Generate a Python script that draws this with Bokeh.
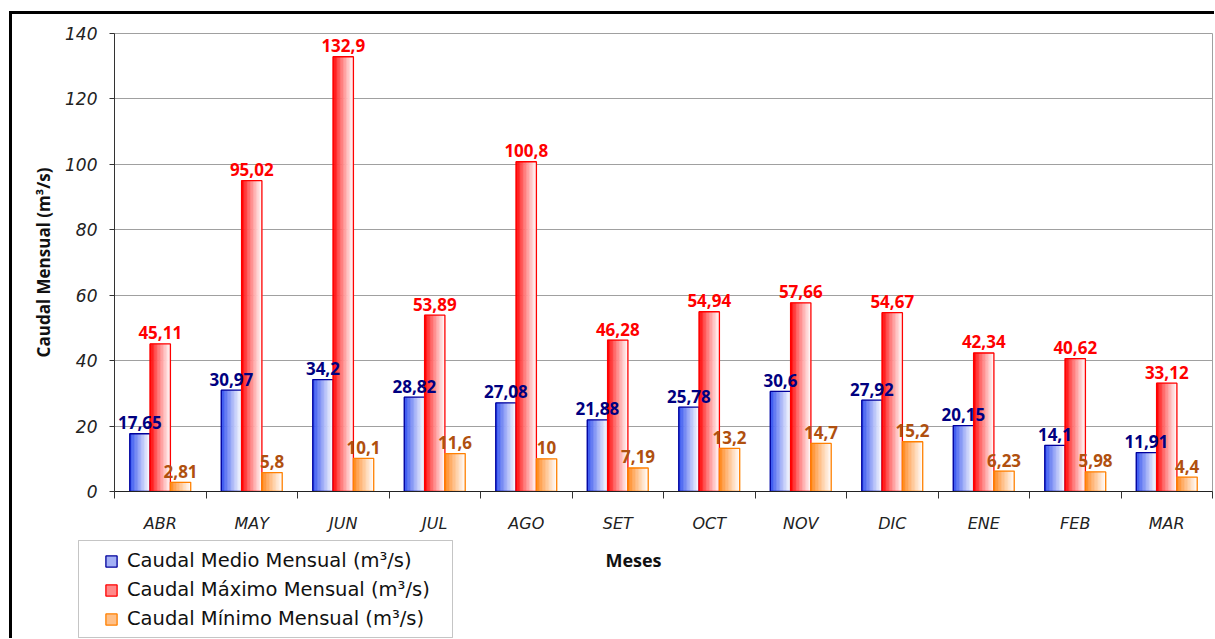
import numpy as np
from bokeh.plotting import figure
from bokeh.layouts import column, row
from bokeh.models import (ColumnDataSource, Range1d, FixedTicker, Legend, LegendItem,
                          Label, BoxAnnotation, Spacer)
from bokeh.core.properties import value
from bokeh.embed import file_html
from bokeh.resources import INLINE

# ---------------- data ----------------
months = ["ABR", "MAY", "JUN", "JUL", "AGO", "SET", "OCT", "NOV", "DIC", "ENE", "FEB", "MAR"]
caudal_medio = [17.65, 30.97, 34.2, 28.82, 27.08, 21.88, 25.78, 30.6, 27.92, 20.15, 14.1, 11.91]
caudal_maximo = [45.11, 95.02, 132.9, 53.89, 100.8, 46.28, 54.94, 57.66, 54.67, 42.34, 40.62, 33.12]
caudal_minimo = [2.81, 5.8, 10.1, 11.6, 10, 7.19, 13.2, 14.7, 15.2, 6.23, 5.98, 4.4]
series_names = ["Caudal Medio Mensual (m³/s)", "Caudal Máximo Mensual (m³/s)",
                "Caudal Mínimo Mensual (m³/s)"]
y_ticks = [0, 20, 40, 60, 80, 100, 120, 140]

# ---------------- styles ----------------
base_colors = [(40, 72, 238), (255, 0, 0), (255, 130, 20)]
line_colors = ["#00009c", "#ff0000", "#ff8000"]
label_colors = ["#000080", "#ff0000", "#b0500f"]
legend_fill = ["#a3b0f5", "#ff8a8a", "#ffc088"]
bar_w = 0.222
n_strips = 14

W = 1202
HA = 522
HB = 102
WB = W - 1

p = figure(width=W, height=HA, x_range=Range1d(0, 12), y_range=Range1d(0, 140),
           output_backend="svg", toolbar_location=None,
           min_border_left=102, min_border_right=2, min_border_top=19, min_border_bottom=45)
p.outline_line_color = "#a0a0a0"
p.background_fill_color = "white"
p.border_fill_color = "white"

idx = np.arange(len(months))
all_series = [caudal_medio, caudal_maximo, caudal_minimo]


def fmt(v):
    return f"{v:g}".replace(".", ",")


# legend / footer figure (its frame covers the whole canvas: 1 data unit = 1 px)
q = figure(width=WB, height=HB, x_range=Range1d(0, WB), y_range=Range1d(0, HB),
           output_backend="svg", toolbar_location=None, x_axis_type=None, y_axis_type=None,
           min_border_left=0, min_border_right=0, min_border_top=0, min_border_bottom=0)
q.outline_line_color = None
q.xgrid.grid_line_color = None
q.ygrid.grid_line_color = None
q.background_fill_color = "white"
q.border_fill_color = "white"

legend_items = []
for s, vals in enumerate(all_series):
    vals = np.array(vals, dtype=float)
    left0 = idx + 0.5 + (s - 1.5) * bar_w
    # gradient strips (saturated on the left, fading to white on the right)
    L, R, T, B, C = [], [], [], [], []
    for j in range(n_strips):
        t = (j / (n_strips - 1)) ** 0.85 * 0.96
        r, g, b = [int(round(c * (1 - t) + 255 * t)) for c in base_colors[s]]
        col = "#%02x%02x%02x" % (r, g, b)
        L += list(left0 + j * bar_w / n_strips)
        R += list(left0 + (j + 1) * bar_w / n_strips)
        T += list(vals)
        B += [0] * len(vals)
        C += [col] * len(vals)
    src = ColumnDataSource(dict(left=L, right=R, top=T, bottom=B, color=C))
    p.quad(left="left", right="right", top="top", bottom="bottom", source=src,
           fill_color="color", line_color="color", line_width=0.6)
    # outline
    osrc = ColumnDataSource(dict(left=left0, right=left0 + bar_w, top=vals,
                                 bottom=np.zeros_like(vals)))
    p.quad(left="left", right="right", top="top", bottom="bottom", source=osrc,
           fill_alpha=0, line_color=line_colors[s], line_width=1.3)
    # legend proxy (in footer figure, nothing visible drawn)
    dummy = q.quad(left=[np.nan], right=[np.nan], top=[np.nan], bottom=[np.nan],
                   fill_color=legend_fill[s], line_color=line_colors[s], line_width=1.3)
    legend_items.append(LegendItem(label=series_names[s], renderers=[dummy]))

for s, vals in enumerate(all_series):
    vals = np.array(vals, dtype=float)
    xc = idx + 0.5 + (s - 1) * bar_w
    lsrc = ColumnDataSource(dict(x=xc, y=vals, t=[fmt(v) for v in vals]))
    p.text(x="x", y="y", text="t", source=lsrc, text_align="center",
           text_baseline="alphabetic", y_offset=-11,
           text_font=value("Open Sans"), text_font_style="bold",
           text_font_size="17px", text_color=label_colors[s])

# ---------------- axes ----------------
p.xaxis.ticker = FixedTicker(ticks=[i + 0.5 for i in range(len(months))],
                             minor_ticks=list(range(len(months) + 1)))
p.xaxis.major_label_overrides = {i + 0.5: m for i, m in enumerate(months)}
p.xaxis.major_tick_line_color = None
p.xaxis.major_tick_out = 0
p.xaxis.major_tick_in = 0
p.xaxis.minor_tick_out = 7
p.xaxis.minor_tick_in = 0
p.xaxis.minor_tick_line_color = "#333333"
p.xaxis.axis_line_color = "#222222"
p.xaxis.major_label_standoff = 15
p.xaxis.major_label_text_font = "DejaVu Sans"
p.xaxis.major_label_text_font_style = "italic"
p.xaxis.major_label_text_font_size = "16px"
p.xaxis.major_label_text_color = "#222222"

p.yaxis.ticker = FixedTicker(ticks=y_ticks)
p.yaxis.minor_tick_line_color = None
p.yaxis.major_tick_out = 5
p.yaxis.major_tick_in = 0
p.yaxis.major_tick_line_color = "#333333"
p.yaxis.axis_line_color = "#333333"
p.yaxis.major_label_standoff = 12
p.yaxis.major_label_text_font = "DejaVu Sans"
p.yaxis.major_label_text_font_style = "italic"
p.yaxis.major_label_text_font_size = "17px"
p.yaxis.major_label_text_color = "#222222"
p.yaxis.axis_label = "Caudal Mensual (m³/s)"
p.yaxis.axis_label_text_font = "Open Sans"
p.yaxis.axis_label_text_font_style = "bold"
p.yaxis.axis_label_text_font_size = "17px"
p.yaxis.axis_label_text_color = "#111111"
p.yaxis.axis_label_standoff = 7

p.xgrid.grid_line_color = None
p.ygrid.grid_line_color = "#a0a0a0"
p.ygrid.grid_line_width = 1

# ---------------- footer: x title + legend ----------------
q.add_layout(Label(x=620, y=79, text="Meses", text_align="center", text_baseline="middle",
                   text_font="Open Sans", text_font_style="bold", text_font_size="18px",
                   text_color="#111111"))

legend = Legend(items=legend_items, location=(83, 0), padding=8, spacing=6,
                glyph_width=14, glyph_height=14, label_standoff=9,
                label_text_font="DejaVu Sans", label_text_font_size="19.5px",
                label_text_color="#111111", border_line_alpha=0,
                background_fill_alpha=0)
q.add_layout(legend)

q.add_layout(BoxAnnotation(left=65, right=439, top=98, bottom=1, fill_alpha=0,
                           line_color="#404040", line_width=1))

layout = column(p, row(Spacer(width=1, height=HB), q, spacing=0), spacing=0,
                styles={"margin-left": "9px", "margin-top": "11px",
                        "border-left": "3px solid black", "border-top": "3px solid black"})

open("out.html", "w").write(file_html(layout, INLINE))
